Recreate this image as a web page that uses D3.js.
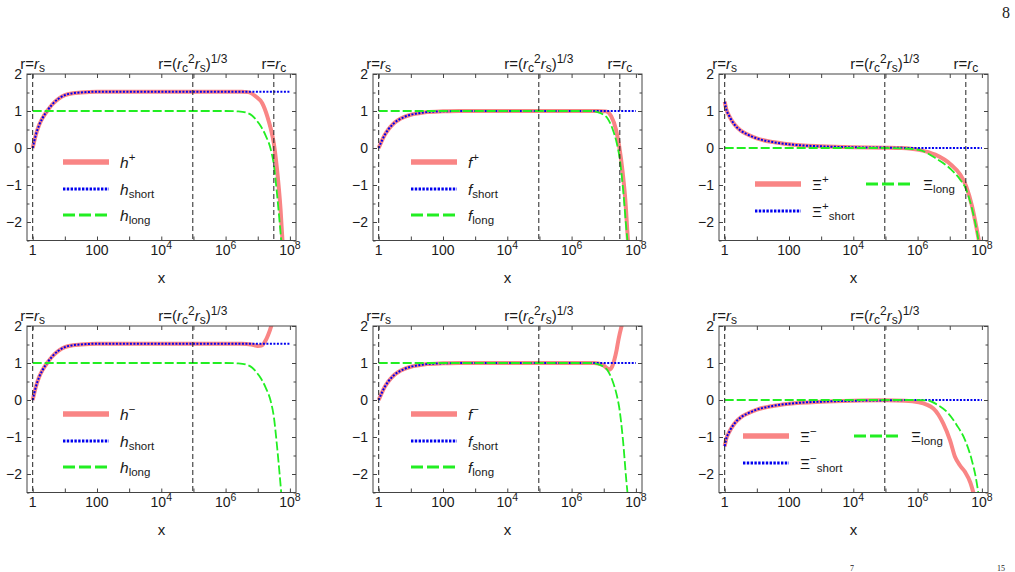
<!DOCTYPE html>
<head>
    <meta charset="utf-8">
    <script src="https://d3js.org/d3.v7.min.js"></script>
    <style>
        body { margin:0; background:#fff; }
        svg text { font-family: "Liberation Sans", Arial, sans-serif; fill:#1a1a1a; }
    </style>
</head>

<body>
<svg id="chart" width="1015" height="572"></svg>
<script>

    // ******************** Data **********************************************
    // each point is [log10(x), value]
    var hShort = [[0,0],[0.1,0.36],[0.2,0.62],[0.3,0.8],[0.45,1.0],[0.6,1.17],[0.8,1.33],[1,1.43],[1.25,1.48],[1.5,1.5],
        [2,1.52],[3,1.52],[4,1.52],[5,1.52],[6,1.52],[7,1.52],[8,1.52]];
    var hPlus = [[0,0],[0.1,0.36],[0.2,0.62],[0.3,0.8],[0.45,1.0],[0.6,1.17],[0.8,1.33],[1,1.43],[1.25,1.48],[1.5,1.5],
        [2,1.52],[3,1.52],[4,1.52],[5,1.52],[6,1.52],[6.5,1.52],[6.7,1.51],[6.94,1.39],[7.14,1.21],[7.3,0.85],
        [7.4,0.54],[7.5,0.13],[7.6,-0.58],[7.71,-1.66],[7.78,-2.65]];
    var hMinus = [[0,0],[0.1,0.36],[0.2,0.62],[0.3,0.8],[0.45,1.0],[0.6,1.17],[0.8,1.33],[1,1.43],[1.25,1.48],[1.5,1.5],
        [2,1.52],[3,1.52],[4,1.52],[5,1.52],[6,1.52],[6.5,1.52],[6.8,1.5],[7.0,1.46],[7.12,1.47],[7.22,1.57],
        [7.32,1.75],[7.42,2.0],[7.5,2.3]];
    var hLong = [[0,1],[2,1],[4,1],[6,1],[6.4,0.99],[6.63,0.96],[6.83,0.87],[7.04,0.66],[7.25,0.33],[7.4,-0.02],
        [7.5,-0.45],[7.6,-1.25],[7.68,-2.0],[7.74,-2.6]];

    var fShort = [[0,0],[0.1,0.2],[0.2,0.37],[0.3,0.5],[0.45,0.65],[0.6,0.75],[0.8,0.84],[1,0.9],[1.25,0.94],[1.5,0.97],
        [2,0.99],[2.5,1],[4,1],[6,1],[8,1]];
    var fPlus = [[0,0],[0.1,0.2],[0.2,0.37],[0.3,0.5],[0.45,0.65],[0.6,0.75],[0.8,0.84],[1,0.9],[1.25,0.94],[1.5,0.97],
        [2,0.99],[2.5,1],[4,1],[6,1],[6.8,1.0],[7.07,0.99],[7.23,0.86],[7.38,0.5],[7.48,0.05],[7.59,-0.67],
        [7.67,-1.38],[7.75,-2.46],[7.78,-2.8]];
    var fMinus = [[0,0],[0.1,0.2],[0.2,0.37],[0.3,0.5],[0.45,0.65],[0.6,0.75],[0.8,0.84],[1,0.9],[1.25,0.94],[1.5,0.97],
        [2,0.99],[2.5,1],[4,1],[6,1],[6.7,1.0],[6.97,0.95],[7.1,0.86],[7.18,0.82],[7.26,0.9],[7.33,1.09],
        [7.4,1.35],[7.46,1.64],[7.57,2.05]];
    var fLong = [[0,1],[3,1],[6,1],[6.6,1.0],[6.8,0.97],[6.97,0.91],[7.12,0.8],[7.28,0.5],[7.4,0.15],[7.49,-0.25],
        [7.6,-1.1],[7.7,-2.15],[7.76,-2.7]];

    var xiShortPlus = [[0,1.25],[0.05,1.05],[0.15,0.85],[0.3,0.64],[0.5,0.47],[0.7,0.37],[1,0.26],[1.5,0.16],[2,0.1],
        [3,0.045],[4,0.02],[5,0.01],[6,0],[7,0],[8,0]];
    var xiPlus = [[0,1.25],[0.05,1.05],[0.15,0.85],[0.3,0.64],[0.5,0.47],[0.7,0.37],[1,0.26],[1.5,0.16],[2,0.1],
        [3,0.045],[4,0.02],[5,0.01],[5.5,0.0],[6.04,-0.05],[6.55,-0.18],[7.04,-0.45],[7.32,-0.71],[7.51,-1.03],
        [7.69,-1.56],[7.84,-2.19],[7.95,-2.7]];
    var xiLongPlus = [[0,0],[3,0],[5,0],[5.5,-0.01],[6.04,-0.05],[6.55,-0.27],[7.04,-0.58],[7.32,-0.85],[7.51,-1.12],
        [7.69,-1.63],[7.84,-2.23],[7.93,-2.7]];

    var xiShortMinus = [[0,-1.25],[0.05,-1.05],[0.15,-0.85],[0.3,-0.64],[0.5,-0.47],[0.7,-0.37],[1,-0.26],[1.5,-0.16],
        [2,-0.1],[3,-0.045],[4,-0.02],[5,-0.01],[6,0],[7,0],[8,0]];
    var xiMinus = [[0,-1.25],[0.05,-1.05],[0.15,-0.85],[0.3,-0.64],[0.5,-0.47],[0.7,-0.37],[1,-0.26],[1.5,-0.16],
        [2,-0.1],[3,-0.045],[4,-0.02],[5,-0.01],[5.6,-0.02],[6.04,-0.06],[6.49,-0.23],[6.8,-0.64],[7.01,-1.09],
        [7.17,-1.55],[7.32,-1.77],[7.48,-1.95],[7.64,-2.23],[7.78,-2.65]];
    var xiLongMinus = [[0,0],[4,0],[6,0],[6.34,-0.02],[6.6,-0.12],[6.91,-0.32],[7.22,-0.68],[7.48,-1.09],[7.69,-1.64],
        [7.81,-2.09],[7.92,-2.7]];

    // vertical reference lines, log10(x): r = r_s, r = (rc^2 rs)^(1/3), r = r_c
    var refLog = [0, 4.98, 7.5];

    var xTickExp = [0, 1, 2, 3, 4, 5, 6, 7, 8];
    var xLabelExp = [0, 2, 4, 6, 8];
    var yMajor = [-2, -1, 0, 1, 2];
    var yMinor = [-2.5, -1.5, -0.5, 0.5, 1.5];

    // ******************** Layout ************************
    var W = 269, H = 166.5;
    var colX = [27, 373, 719], rowY = [74, 326];

    var x = d3.scaleLog().domain([Math.pow(10, -0.177), Math.pow(10, 8.19)]).range([0, W]);
    var y = d3.scaleLinear().domain([-2.5, 2]).range([H, 0]);

    var line = d3.line()
        .x(function (d) { return x(Math.pow(10, d[0])); })
        .y(function (d) { return y(d[1]); })
        .curve(d3.curveMonotoneX);

    var PINK = "#f98585", BLUE = "#0000f0", GREEN = "#22ee22";

    var panels = [
        {col:0, row:0, main:hPlus,  shrt:hShort,       lng:hLong,       sym:"h", sign:"+", rc:true,  legX:36, xi:false},
        {col:1, row:0, main:fPlus,  shrt:fShort,       lng:fLong,       sym:"f", sign:"+", rc:true,  legX:38, xi:false},
        {col:2, row:0, main:xiPlus, shrt:xiShortPlus,  lng:xiLongPlus,  sym:"Ξ", sign:"+", rc:true,  legX:36, xi:true},
        {col:0, row:1, main:hMinus, shrt:hShort,       lng:hLong,       sym:"h", sign:"−", rc:false, legX:36, xi:false},
        {col:1, row:1, main:fMinus, shrt:fShort,       lng:fLong,       sym:"f", sign:"−", rc:false, legX:38, xi:false},
        {col:2, row:1, main:xiMinus,shrt:xiShortMinus, lng:xiLongMinus, sym:"Ξ", sign:"−", rc:false, legX:24, xi:true}
    ];

    var svg = d3.select("#chart");
    svg.append("rect").attr("width", 1015).attr("height", 572).attr("fill", "#fff");

    // rich text helper: parts [{t, i, sup, sub}]
    function rich(sel, parts, base, small) {
        var cur = 0;
        parts.forEach(function (p) {
            var off = p.sup ? -base * 0.42 : (p.sub ? base * 0.22 : 0);
            var ts = sel.append("tspan").text(p.t)
                .attr("dy", off - cur)
                .style("font-size", ((p.sup || p.sub) ? small : base) + "px");
            if (p.i) ts.style("font-style", "italic");
            cur = off;
        });
        return sel;
    }

    function expLabel(e) {
        if (e === 0) return [{t:"1"}];
        if (e === 2) return [{t:"100"}];
        return [{t:"10"}, {t:String(e), sup:true}];
    }

    var refLabels = [
        [{t:"r="}, {t:"r", i:true}, {t:"s", sub:true}],
        [{t:"r=("}, {t:"r", i:true}, {t:"c", sub:true}, {t:"2", sup:true}, {t:"r", i:true}, {t:"s", sub:true}, {t:")"}, {t:"1/3", sup:true}],
        [{t:"r="}, {t:"r", i:true}, {t:"c", sub:true}]
    ];

    panels.forEach(function (p, k) {
        var g = svg.append("g").attr("transform", "translate(" + colX[p.col] + "," + rowY[p.row] + ")");

        var clipId = "clip" + k;
        g.append("clipPath").attr("id", clipId)
            .append("rect").attr("width", W).attr("height", H);

        var curves = g.append("g").attr("clip-path", "url(#" + clipId + ")");
        curves.append("path").attr("d", line(p.main))
            .attr("fill", "none").attr("stroke", PINK).attr("stroke-width", 4);
        curves.append("path").attr("d", line(p.shrt))
            .attr("fill", "none").attr("stroke", BLUE).attr("stroke-width", 2)
            .attr("stroke-dasharray", "2,1.5");
        curves.append("path").attr("d", line(p.lng))
            .attr("fill", "none").attr("stroke", GREEN).attr("stroke-width", 1.8)
            .attr("stroke-dasharray", "9,3");

        // reference lines
        var refs = p.rc ? refLog : refLog.slice(0, 2);
        refs.forEach(function (lx, i) {
            var px = x(Math.pow(10, lx));
            g.append("line").attr("x1", px).attr("x2", px).attr("y1", 0).attr("y2", H)
                .attr("stroke", "#222").attr("stroke-width", 1).attr("stroke-dasharray", "5,3");
            rich(g.append("text").attr("x", px).attr("y", -5).attr("text-anchor", "middle"),
                refLabels[i], 15, 12);
        });

        // frame and ticks (inward on all four sides)
        g.append("rect").attr("width", W).attr("height", H)
            .attr("fill", "none").attr("stroke", "#444").attr("stroke-width", 1);

        var xt = xTickExp.map(function (e) { return Math.pow(10, e); });
        [[d3.axisBottom, H], [d3.axisTop, 0]].forEach(function (a) {
            g.append("g").attr("transform", "translate(0," + a[1] + ")")
                .call(a[0](x).tickValues(xt).tickSizeInner(-4).tickSizeOuter(0).tickFormat(""))
                .call(function (s) { s.select(".domain").remove(); s.selectAll("line").attr("stroke", "#444"); });
        });
        [[d3.axisLeft, 0], [d3.axisRight, W]].forEach(function (a) {
            g.append("g").attr("transform", "translate(" + a[1] + ",0)")
                .call(a[0](y).tickValues(yMajor).tickSizeInner(-4).tickSizeOuter(0).tickFormat(""))
                .call(function (s) { s.select(".domain").remove(); s.selectAll("line").attr("stroke", "#444"); });
            g.append("g").attr("transform", "translate(" + a[1] + ",0)")
                .call(a[0](y).tickValues(yMinor).tickSizeInner(-2.5).tickSizeOuter(0).tickFormat(""))
                .call(function (s) { s.select(".domain").remove(); s.selectAll("line").attr("stroke", "#444"); });
        });

        // tick labels
        xLabelExp.forEach(function (e) {
            rich(g.append("text").attr("x", x(Math.pow(10, e))).attr("y", H + 14).attr("text-anchor", "middle"),
                expLabel(e), 14, 10.5);
        });
        yMajor.forEach(function (v) {
            g.append("text").attr("x", -5).attr("y", y(v)).attr("dy", "0.36em")
                .attr("text-anchor", "end").style("font-size", "14px")
                .text(v < 0 ? "−" + Math.abs(v) : String(v));
        });
        g.append("text").attr("x", W / 2).attr("y", H + 42).attr("text-anchor", "middle")
            .style("font-size", "15px").text("x");

        // legend
        var it = !p.xi;
        var labMain = [{t:p.sym, i:it}, {t:p.sign, sup:true}];
        var labShort = p.xi ? [{t:p.sym}, {t:p.sign, sup:true}, {t:"short", sub:true}]
                            : [{t:p.sym, i:true}, {t:"short", sub:true}];
        var labLong = [{t:p.sym, i:it}, {t:"long", sub:true}];
        var items;
        if (p.xi) {
            items = [
                {dx:p.legX, dy:110, lab:labMain, s:PINK, w:5.5, dash:null},
                {dx:p.legX + 111, dy:110, lab:labLong, s:GREEN, w:3.2, dash:"12,4"},
                {dx:p.legX, dy:137, lab:labShort, s:BLUE, w:2.8, dash:"2.4,1.4"}
            ];
        } else {
            items = [
                {dx:p.legX, dy:88, lab:labMain, s:PINK, w:5.5, dash:null},
                {dx:p.legX, dy:115, lab:labShort, s:BLUE, w:2.8, dash:"2.4,1.4"},
                {dx:p.legX, dy:141, lab:labLong, s:GREEN, w:3.2, dash:"12,4"}
            ];
        }
        items.forEach(function (d) {
            g.append("line").attr("x1", d.dx).attr("x2", d.dx + 46).attr("y1", d.dy).attr("y2", d.dy)
                .attr("stroke", d.s).attr("stroke-width", d.w)
                .attr("stroke-dasharray", d.dash);
            rich(g.append("text").attr("x", d.dx + 57).attr("y", d.dy + 5.5), d.lab, 15.5, 11.5);
        });
    });

    // page furniture
    svg.append("text").attr("x", 1010).attr("y", 18).attr("text-anchor", "end")
        .style("font-family", "'Liberation Serif', 'Times New Roman', serif").style("font-size", "16px").text("8");
    svg.append("text").attr("x", 852).attr("y", 570.5).attr("text-anchor", "middle")
        .style("font-family", "'Liberation Serif', 'Times New Roman', serif").style("font-size", "8px").text("7");
    svg.append("text").attr("x", 1001).attr("y", 570.5).attr("text-anchor", "middle")
        .style("font-family", "'Liberation Serif', 'Times New Roman', serif").style("font-size", "8px").text("15");

</script>
</body>
